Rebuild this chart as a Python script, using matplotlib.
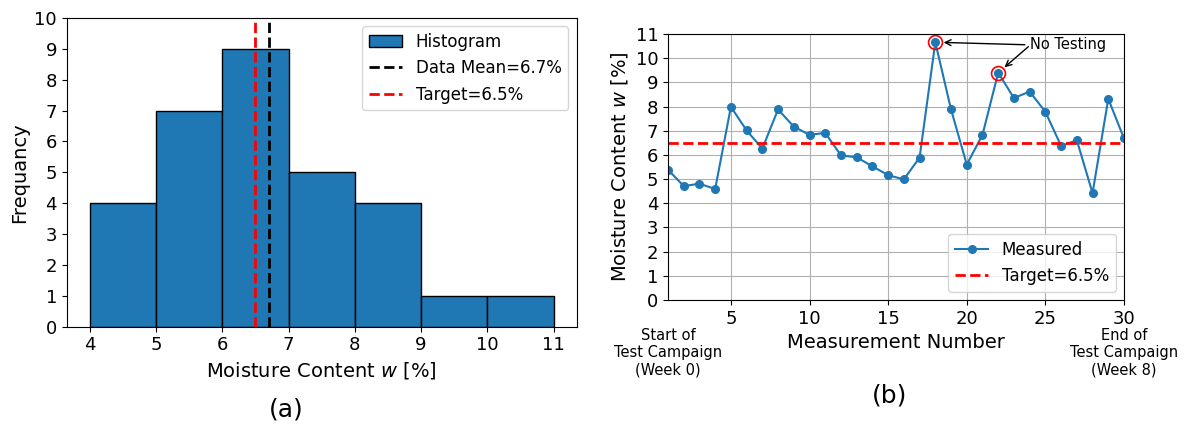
import matplotlib
matplotlib.use("Agg")
import matplotlib.pyplot as plt
import matplotlib.transforms as mtransforms

# ---- data ----
bin_edges = [4, 5, 6, 7, 8, 9, 10, 11]
bin_counts = [4, 7, 9, 5, 4, 1, 1]
data_mean = 6.7
target = 6.5

measurement_no = list(range(1, 31))
moisture = [5.39, 4.71, 4.81, 4.59, 7.99, 7.01, 6.26, 7.88, 7.17, 6.83,
            6.91, 5.98, 5.90, 5.53, 5.16, 4.99, 5.89, 10.66, 7.88, 5.60,
            6.83, 9.40, 8.35, 8.62, 7.78, 6.37, 6.61, 4.42, 8.32, 6.68]
no_testing = [18, 22]

fig = plt.figure(figsize=(11.84, 4.30), dpi=100)

# ---- (a) histogram ----
ax1 = fig.add_axes([66.7/1184, (430-326.7)/430, 510/1184, 308.7/430])
ax1.hist(bin_edges[:-1], bins=bin_edges, weights=bin_counts,
         color='#1f77b4', edgecolor='black', linewidth=1.0, label='Histogram')
ax1.axvline(data_mean, color='black', ls='--', lw=2, label=f'Data Mean={data_mean}%')
ax1.axvline(target, color='red', ls='--', lw=2, label=f'Target={target}%')
ax1.set_ylim(0, 10)
ax1.set_yticks(range(0, 11))
ax1.set_xticks(range(4, 12))
ax1.tick_params(labelsize=13)
ax1.set_xlabel('Moisture Content $w$ [%]', fontsize=14)
ax1.set_ylabel('Frequancy', fontsize=14)
ax1.legend(loc='upper right', fontsize=12)
fig.text(286/1184, 1-410/430, '(a)', fontsize=18, ha='center', va='center')

# ---- (b) time series ----
ax2 = fig.add_axes([668/1184, (430-300)/430, (1124-668)/1184, (300-34)/430])
ax2.plot(measurement_no, moisture, '-o', color='#1f77b4', lw=1.5, ms=5.5, label='Measured')
ax2.axhline(target, color='red', ls='--', lw=2, label=f'Target={target}%')
nt_y = [moisture[i-1] for i in no_testing]
ax2.plot(no_testing, nt_y, 'o', mfc='none', mec='red', ms=10, mew=1.2)
for xi, yi in zip(no_testing, nt_y):
    ax2.annotate('No Testing' if xi == no_testing[0] else '', xy=(xi, yi),
                 xytext=(24.05, 10.55), ha='left', va='center', fontsize=10.5,
                 arrowprops=dict(arrowstyle='->', color='black', lw=1.0,
                                 shrinkA=2, shrinkB=6, relpos=(0, 0.5)))
ax2.set_xlim(1, 30)
ax2.set_ylim(0, 11)
ax2.set_yticks(range(0, 12))
ax2.set_xticks([5, 10, 15, 20, 25, 30])
ax2.grid(True, color='#b0b0b0', lw=0.8)
ax2.tick_params(labelsize=13)
ax2.set_xlabel('Measurement Number', fontsize=14)
ax2.set_ylabel('Moisture Content $w$ [%]', fontsize=14)
ax2.legend(loc='lower right', fontsize=12)
trans = mtransforms.blended_transform_factory(ax2.transData, ax2.transAxes)
ax2.text(1, -0.105, 'Start of\nTest Campaign\n(Week 0)', transform=trans,
         ha='center', va='top', fontsize=10.5)
ax2.text(30, -0.105, 'End of\nTest Campaign\n(Week 8)', transform=trans,
         ha='center', va='top', fontsize=10.5)
fig.text(890/1184, 1-395/430, '(b)', fontsize=18, ha='center', va='center')

fig.savefig('out.png', dpi=100)
